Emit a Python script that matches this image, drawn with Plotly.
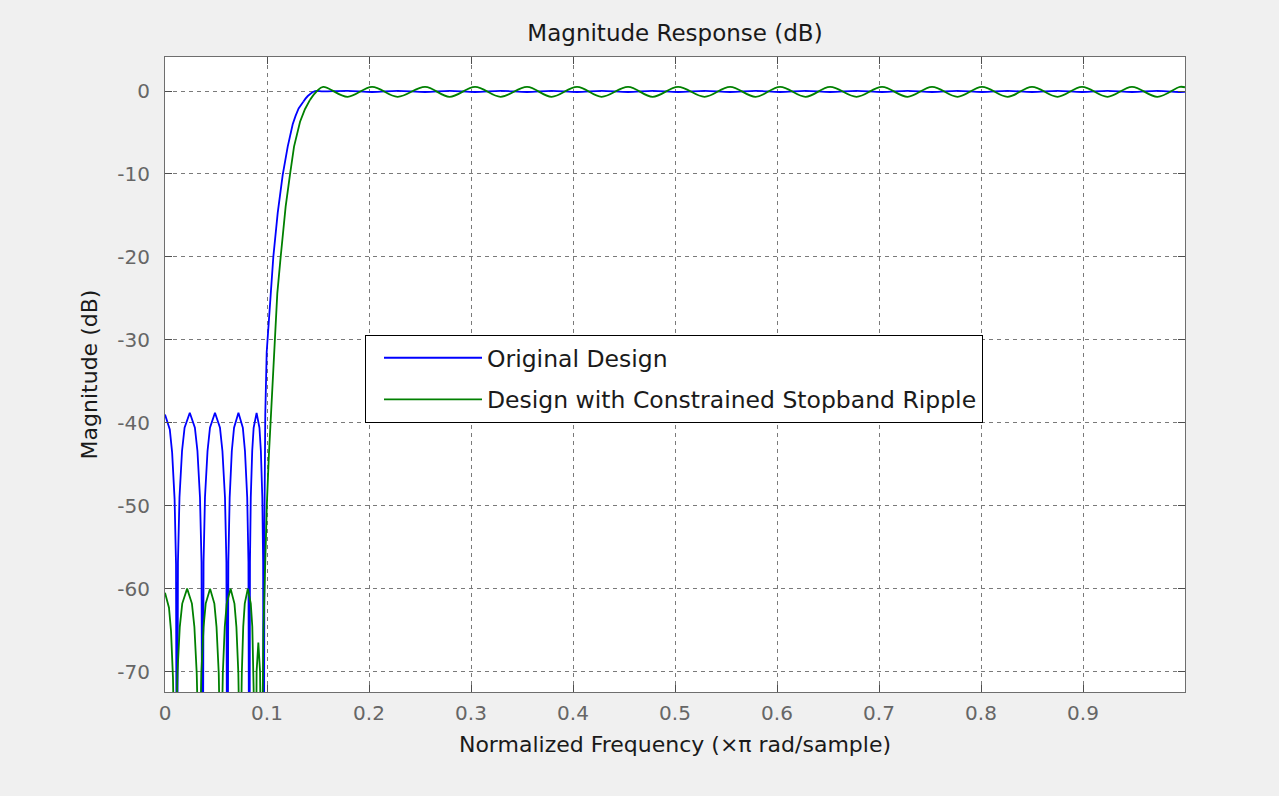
import plotly.graph_objects as go

# ---------------- data ----------------
# Original Design: stopband + transition (normalized freq, dB)
blue_stop_f = [0.0, 0.0047, 0.0070, 0.0094, 0.0108, 0.0117,
               0.0127, 0.0142, 0.0167, 0.0192, 0.0243, 0.0293, 0.0318, 0.0343, 0.0358, 0.0368,
               0.0378, 0.0392, 0.0417, 0.0441, 0.0490, 0.0539, 0.0563, 0.0588, 0.0602, 0.0612,
               0.0621, 0.0634, 0.0655, 0.0677, 0.0720, 0.0763, 0.0784, 0.0806, 0.0818, 0.0827,
               0.0833, 0.0841, 0.0855, 0.0869, 0.0898, 0.0926, 0.0940, 0.0954, 0.0962, 0.0968,
               0.0975, 0.0983, 0.0997, 0.1023, 0.1062, 0.1105, 0.1154, 0.1203, 0.1228, 0.1252,
               0.1280, 0.1310, 0.1356]
blue_stop_db = [-39.0, -40.8, -43.6, -49.2, -57.0, -100,
                -56.8, -49.0, -43.4, -40.6, -38.8, -40.6, -43.4, -49.0, -56.8, -100,
                -56.8, -49.0, -43.4, -40.6, -38.8, -40.6, -43.4, -49.0, -56.8, -100,
                -56.8, -49.0, -43.4, -40.6, -38.8, -40.6, -43.4, -49.0, -56.8, -100,
                -56.8, -49.0, -43.4, -40.6, -38.8, -40.6, -43.4, -49.0, -56.8, -100,
                -52.0, -39.0, -31.5, -26.4, -20.0, -14.7, -10.1, -6.7, -5.2, -4.0,
                -3.0, -2.1, -1.3]

# Original Design: passband
blue_pass_f = [0.1356, 0.1400, 0.1470, 0.155, 0.179, 0.203, 0.228, 0.255, 0.279, 0.304, 0.329,
               0.355, 0.379, 0.404, 0.428, 0.454, 0.478, 0.503, 0.529, 0.554, 0.579, 0.603,
               0.628, 0.652, 0.678, 0.703, 0.728, 0.752, 0.777, 0.801, 0.826, 0.850, 0.875,
               0.899, 0.924, 0.948, 0.973, 0.995, 1.0]
blue_pass_db = [-1.3, -0.6, 0.0, -0.05, 0.02, -0.12, 0.02, -0.12, 0.02, -0.12, 0.02,
                -0.12, 0.02, -0.12, 0.02, -0.12, 0.02, -0.12, 0.02, -0.12, 0.02, -0.12,
                0.02, -0.12, 0.02, -0.12, 0.02, -0.12, 0.02, -0.12, 0.02, -0.12, 0.02,
                -0.12, 0.02, -0.12, 0.02, -0.12, -0.10]

# Design with Constrained Stopband Ripple: stopband + transition
green_stop_f = [0.0, 0.0039, 0.0059, 0.0078, 0.0090, 0.0098,
                0.0107, 0.0122, 0.0145, 0.0169, 0.0217, 0.0264, 0.0288, 0.0311, 0.0326, 0.0335,
                0.0344, 0.0356, 0.0378, 0.0399, 0.0442, 0.0484, 0.0505, 0.0527, 0.0539, 0.0548,
                0.0556, 0.0567, 0.0586, 0.0605, 0.0643, 0.0681, 0.0700, 0.0719, 0.0730, 0.0738,
                0.0744, 0.0753, 0.0767, 0.0782, 0.0812, 0.0841, 0.0856, 0.0870, 0.0879, 0.0885,
                0.0890, 0.0898, 0.0915, 0.0932, 0.0940, 0.0945,
                0.0952, 0.0965, 0.0980, 0.0998, 0.1018, 0.1036, 0.1055, 0.1072, 0.1101, 0.1134,
                0.1183, 0.1225, 0.1265, 0.1324, 0.1372, 0.1420]
green_stop_db = [-60.5, -62.3, -65.1, -70.7, -78.5, -100,
                 -78.0, -70.2, -64.6, -61.8, -60.0, -61.8, -64.6, -70.2, -78.0, -100,
                 -78.0, -70.2, -64.6, -61.8, -60.0, -61.8, -64.6, -70.2, -78.0, -100,
                 -78.0, -70.2, -64.6, -61.8, -60.0, -61.8, -64.6, -70.2, -78.0, -100,
                 -78.0, -70.2, -64.6, -61.8, -60.0, -61.8, -64.6, -70.2, -78.0, -100,
                 -80.0, -70.0, -66.5, -70.0, -80.0, -100,
                 -80.0, -65.0, -57.0, -50.0, -44.0, -39.5, -34.5, -30.0, -24.4, -20.0,
                 -13.9, -10.1, -6.7, -3.7, -2.2, -1.1]

# Design with Constrained Stopband Ripple: passband
green_pass_f = [0.1420, 0.1490, 0.155, 0.179, 0.203, 0.228, 0.255, 0.279, 0.304, 0.329,
                0.355, 0.379, 0.404, 0.428, 0.454, 0.478, 0.503, 0.529, 0.554, 0.579, 0.603,
                0.628, 0.652, 0.678, 0.703, 0.728, 0.752, 0.777, 0.801, 0.826, 0.850, 0.875,
                0.899, 0.924, 0.948, 0.973, 0.995, 1.0]
green_pass_db = [-1.1, 0.0, 0.5, -0.7, 0.5, -0.7, 0.5, -0.7, 0.5, -0.7,
                 0.5, -0.7, 0.5, -0.7, 0.5, -0.7, 0.5, -0.7, 0.5, -0.7, 0.5,
                 -0.7, 0.5, -0.7, 0.5, -0.7, 0.5, -0.7, 0.5, -0.7, 0.5, -0.7,
                 0.5, -0.7, 0.5, -0.7, 0.5, 0.45]

series_names = ["Original Design", "Design with Constrained Stopband Ripple"]
x_tickvals = [0, 0.1, 0.2, 0.3, 0.4, 0.5, 0.6, 0.7, 0.8, 0.9]
x_ticktext = ["0", "0.1", "0.2", "0.3", "0.4", "0.5", "0.6", "0.7", "0.8", "0.9"]
y_tickvals = [-70, -60, -50, -40, -30, -20, -10, 0]
y_ticktext = ["-70", "-60", "-50", "-40", "-30", "-20", "-10", "0"]

# ---------------- figure ----------------
FONT = "DejaVu Sans"
BLUE = "#0000ff"
GREEN = "#008000"
LW = 1.8

fig = go.Figure()
fig.add_trace(go.Scatter(x=blue_stop_f, y=blue_stop_db, mode="lines", name=series_names[0],
                         legendgroup="orig", line=dict(color=BLUE, width=LW)))
fig.add_trace(go.Scatter(x=blue_pass_f, y=blue_pass_db, mode="lines", name=series_names[0],
                         legendgroup="orig", showlegend=False,
                         line=dict(color=BLUE, width=LW, shape="spline")))
fig.add_trace(go.Scatter(x=green_stop_f, y=green_stop_db, mode="lines", name=series_names[1],
                         legendgroup="cons", line=dict(color=GREEN, width=LW)))
fig.add_trace(go.Scatter(x=green_pass_f, y=green_pass_db, mode="lines", name=series_names[1],
                         legendgroup="cons", showlegend=False,
                         line=dict(color=GREEN, width=LW, shape="spline")))

axis_common = dict(
    showline=True, linecolor="#6e6e6e", linewidth=1, mirror="allticks",
    ticks="inside", ticklen=7, tickcolor="#4d4d4d", tickwidth=1,
    showgrid=True, gridcolor="#7a7a7a", gridwidth=1, griddash="4px,4px",
    zeroline=False,
    tickfont=dict(family=FONT, size=20, color="#666666"),
    title_font=dict(family=FONT, size=22, color="#1a1a1a"),
)

W, H = 1279, 796
L, R, T, B = 165, 1185, 57, 692  # plot area in pixels

fig.update_layout(
    width=W, height=H,
    margin=dict(l=L, r=W - R, t=T, b=H - B),
    paper_bgcolor="#f0f0f0", plot_bgcolor="#ffffff",
    title=dict(text="Magnitude Response (dB)", x=0.5, xref="paper", xanchor="center",
               y=1 - 33 / H, yanchor="middle",
               font=dict(family=FONT, size=23, color="#1a1a1a")),
    xaxis=dict(range=[0, 1], tickvals=x_tickvals, ticktext=x_ticktext,
               title=dict(text="Normalized Frequency (\u00d7\u03c0 rad/sample)", standoff=12),
               ticklabelstandoff=3, **axis_common),
    yaxis=dict(range=[-72.46, 4.1], tickvals=y_tickvals, ticktext=y_ticktext,
               title=dict(text="Magnitude (dB)", standoff=13),
               ticklabelstandoff=10, **axis_common),
    legend=dict(x=(365 - L) / (R - L), y=(B - 335) / (B - T), xref="paper", yref="paper",
                xanchor="left", yanchor="top",
                bgcolor="#ffffff", bordercolor="#000000", borderwidth=1,
                font=dict(family=FONT, size=23.5, color="#1a1a1a"),
                indentation=13, itemwidth=98, tracegroupgap=8),
    showlegend=True,
)

fig.write_html(
    "out.html",
    config={"displayModeBar": False},
    post_script="document.body.style.margin='0';document.body.style.background='#f0f0f0';"
                "document.documentElement.style.overflow='hidden';",
)
